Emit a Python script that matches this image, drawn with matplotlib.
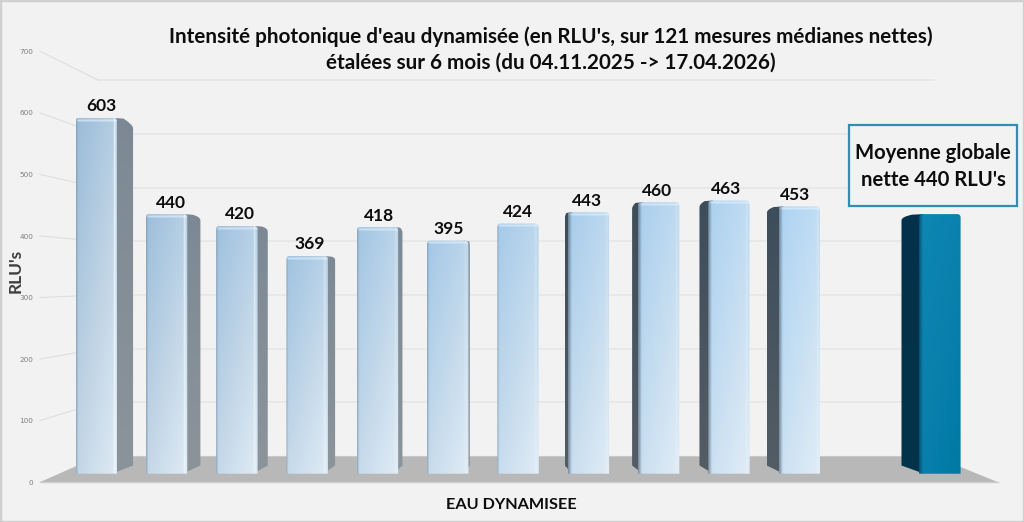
import numpy as np
import matplotlib
matplotlib.use("Agg")
import matplotlib.pyplot as plt
from matplotlib.path import Path
from matplotlib.patches import Polygon, Rectangle

plt.rcParams["font.family"] = ["Lato", "DejaVu Sans"]

# data
values = [603, 440, 420, 369, 418, 395, 424, 443, 460, 463, 453]
mean_value = 440
mean_pos = 12
y_ticks = [0, 100, 200, 300, 400, 500, 600, 700]
title_lines = ["Intensité photonique d'eau dynamisée (en RLU's, sur 121 mesures médianes nettes)",
               "étalées sur 6 mois (du 04.11.2025 -> 17.04.2026)"]
mean_lines = ["Moyenne globale", "nette 440 RLU's"]
x_label = "EAU DYNAMISEE"
y_label = "RLU's"

W, H = 1024, 522
BAR_W = 0.59
PX_X = 70.3    # pixels per category
PX_Y = 0.59    # pixels per RLU
VX, VY = 5.74, 330   # vanishing point in data units
S_FRONT, S_BACK, S_BAR = 1.043, 0.91, 0.958
X_LO, X_HI = -0.53, 12.53


def project(x, v, s):
    return VX + (x - VX) * s, VY + (v - VY) * s


def rgb(h):
    return np.array(matplotlib.colors.to_rgb(h))


def px(x):
    return x / W


def py(y):
    return 1 - y / H


fig = plt.figure(figsize=(W / 100, H / 100), dpi=100, facecolor="#f2f2f2")
ax = fig.add_axes([0, 0, 1, 1])
ax.axis("off")

# floor
fx0, fy0 = project(X_LO, 0, S_FRONT)
fx1, _ = project(X_HI, 0, S_FRONT)
bx0, by0 = project(X_LO, 0, S_BACK)
bx1, _ = project(X_HI, 0, S_BACK)
ax.add_patch(Polygon([(fx0, fy0), (fx1, fy0), (bx1, by0), (bx0, by0)], fc="#b8b8b8", ec="none", zorder=1))
ax.plot([fx0, fx1], [fy0, fy0], color="#cdcdcd", lw=1, zorder=1.1)
ax.plot([bx0, bx1], [by0, by0], color="#c8c8c8", lw=0.8, zorder=1.1)

# walls and tick labels
for t in y_ticks:
    xa, ya = project(X_LO, t, S_FRONT)
    xb, yb = project(X_LO, t, S_BACK)
    xc, _ = project(X_HI, t, S_BACK)
    if t > 0:
        ax.plot([xa, xb], [ya, yb], color="#dedede", lw=0.8, zorder=0.5)
        ax.plot([xb, xc], [yb, yb], color="#e6e6e6", lw=1.1, zorder=0.5)
    ax.text(xa - 0.1, ya - 1, str(t), ha="right", va="center", fontsize=5.2, color="#7f7f7f",
            family=["DejaVu Sans"], zorder=3)


def rounded_top(x0, x1, v):
    rx, ry = 3.5 / PX_X, 3.5 / PX_Y
    verts = [(x0, 0), (x0, v - ry), (x0, v), (x0 + rx, v), (x1 - rx, v), (x1, v), (x1, v - ry), (x1, 0), (x0, 0)]
    codes = [Path.MOVETO, Path.LINETO, Path.CURVE3, Path.CURVE3, Path.LINETO, Path.CURVE3, Path.CURVE3,
             Path.LINETO, Path.CLOSEPOLY]
    return Path(verts, codes)


def draw_bar(pos, v, c_tl, c_mid, c_br, side_top, side_bot, top_hi, edge_hi, left_dark):
    x0, x1 = pos - BAR_W / 2, pos + BAR_W / 2
    dx = 0
    # side face goes toward the vanishing point; a bar straddling it shows none
    if x1 < VX or x0 > VX:
        edge = x1 if x1 < VX else x0
        xb, _ = project(edge, 0, S_BAR)
        _, yt = project(edge, v, S_BAR)
        _, yb = project(edge, 0, S_BAR)
        dx = xb - edge
        # runs a little under the front face so that the rounded corner stays filled
        inner = edge - np.sign(dx) * 5 / PX_X
        sl, sr = min(inner, xb), max(inner, xb)
        ny = max(int(v * PX_Y), 2)
        nx = max(int((sr - sl) * PX_X), 2)
        uu, tt = np.meshgrid(np.linspace(0, 1, nx), np.linspace(0, 1, ny))
        img = side_top + (side_bot - side_top) * tt[..., None]
        ry = 3.5 / PX_Y
        side = Path([(inner, 0), (xb, yb), (xb, yt - ry), (xb, yt), (edge + dx * 0.4, v - 1), (inner, v), (inner, 0)],
                    [Path.MOVETO, Path.LINETO, Path.LINETO, Path.CURVE3, Path.CURVE3, Path.LINETO, Path.CLOSEPOLY])
        im = ax.imshow(img, extent=(sl, sr, 0, v), origin="upper", aspect="auto", zorder=2, interpolation="bilinear")
        im.set_clip_path(side, ax.transData)

    # front face, diagonal shading
    nx, ny = 60, max(int(v * PX_Y), 2)
    uu, tt = np.meshgrid(np.linspace(0, 1, nx), np.linspace(0, 1, ny))
    mix = (0.42 * uu + 0.58 * tt)[..., None]
    img = np.where(mix < 0.5, c_tl + (c_mid - c_tl) * mix * 2, c_mid + (c_br - c_mid) * (mix - 0.5) * 2)
    hi_rows = np.clip(1 - np.abs((tt * v * PX_Y) - 2.0) / 2.0, 0, 1)[..., None] * top_hi
    img = img * (1 - hi_rows) + rgb("#e4f3ff") * hi_rows
    hi_cols = np.clip(1 - np.abs(uu - 0.93) / 0.035, 0, 1)[..., None] * edge_hi
    img = img * (1 - hi_cols) + rgb("#f2faff") * hi_cols
    dark = np.clip(1 - uu / 0.05, 0, 1)[..., None] * left_dark
    img = img * (1 - dark) + rgb("#7f99b0") * dark
    if x0 > VX:
        # soft shadow where the side meets the front
        shade = np.clip(1 - uu / 0.09, 0, 1)[..., None] * 0.55
        img = img * (1 - shade) + side_top * shade
    im = ax.imshow(img, extent=(x0, x1, 0, v), origin="upper", aspect="auto", zorder=2.2, interpolation="bilinear")
    im.set_clip_path(rounded_top(x0, x1, v), ax.transData)
    return dx


n = len(values)
for i, v in enumerate(values):
    f = i / (n - 1)
    c_tl = rgb("#9abcd9") * (1 - f) + rgb("#acd3f3") * f
    c_mid = rgb("#bdd2e4") * (1 - f) + rgb("#c6dff3") * f
    c_br = rgb("#e0ebf4") * (1 - f) + rgb("#e2edf6") * f
    if i < VX:
        st, sb = rgb("#7c8994"), rgb("#8c949b")
    else:
        st, sb = rgb("#3e4d5b"), rgb("#535d66")
    edge_hi = max(0.9 - 0.15 * i, 0.25)
    left_dark = 0.7 if i < 7 else 0.0
    dx = draw_bar(i, v, c_tl, c_mid, c_br, st, sb, 0.6, edge_hi, left_dark)
    ax.text(i + dx / 3, v + 6, str(v), ha="center", va="bottom", fontsize=12.5, fontweight="bold",
            color="#0d0d0d", zorder=5)

draw_bar(mean_pos, mean_value, rgb("#0d87b3"), rgb("#0a80ad"), rgb("#0079a5"), rgb("#03304a"), rgb("#03344c"),
         0.0, 0.0, 0.0)

ax.set_xlim(-96.25 / PX_X, (W - 96.25) / PX_X)
ax.set_ylim((473.7 - H) / PX_Y, 473.7 / PX_Y)

# titles and labels
fig.text(px(551), py(37), title_lines[0], ha="center", va="center", fontsize=14.85, fontweight="bold", color="#0d0d0d")
fig.text(px(551), py(63), title_lines[1], ha="center", va="center", fontsize=14.85, fontweight="bold", color="#0d0d0d")
fig.text(px(511), py(505), x_label, ha="center", va="center", fontsize=11.7, fontweight="bold", color="#0d0d0d")
fig.text(px(16), py(271), y_label, ha="center", va="center", rotation=90, fontsize=12.5, fontweight="bold",
         color="#3f3f3f")

# mean box
fig.add_artist(Rectangle((px(849), py(206)), 168 / W, 81 / H, transform=fig.transFigure, fc="#f2f2f2",
                         ec="#2e8fb1", lw=1.6, zorder=6))
fig.text(px(933), py(153), mean_lines[0], ha="center", va="center", fontsize=14.6, fontweight="bold",
         color="#0d0d0d", zorder=7)
fig.text(px(933), py(180), mean_lines[1], ha="center", va="center", fontsize=14.6, fontweight="bold",
         color="#0d0d0d", zorder=7)

# outer frame
fig.add_artist(Rectangle((0, 0), 1, 1, transform=fig.transFigure, fc="none", ec="#d0d0d0", lw=2.5, zorder=8))

fig.savefig("out.png", dpi=100, facecolor=fig.get_facecolor())
